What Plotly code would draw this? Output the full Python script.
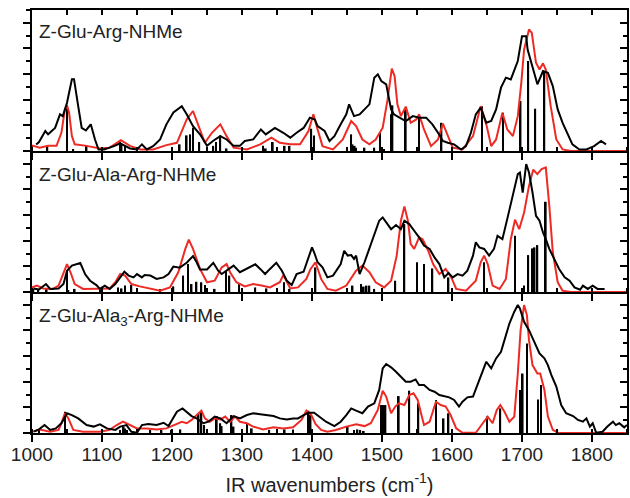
import plotly.graph_objects as go

# ---------------- data ----------------
# Panel 1: Z-Glu-Arg-NHMe
p1_exp_x = [1006,1010,1019,1023,1033,1040,1044,1050,1057,1060,1066,1071,1077,1084,1090,1095,1103,1110,1118,1126,1133,1140,1150,1157,1164,1173,1183,1192,1202,1214,1221,1230,1240,1250,1259,1269,1278,1288,1297,1304,1316,1327,1334,1347,1359,1369,1378,1388,1397,1404,1408,1418,1425,1432,1441,1449,1453,1460,1468,1475,1482,1489,1494,1499,1506,1513,1517,1525,1534,1544,1553,1563,1572,1580,1587,1594,1603,1613,1620,1627,1634,1641,1649,1656,1663,1670,1677,1684,1694,1700,1706,1708,1715,1722,1730,1737,1744,1751,1758,1765,1772,1782,1792,1803,1813,1820]
p1_exp_y = [0.25,0.35,0.78,0.65,0.9,1.43,1.36,1.88,2.8,2.8,1.75,0.9,0.8,1.04,0.45,0.06,0.06,0.12,0.2,0.3,0.2,0.1,0.06,0.26,0.06,0.19,0.45,1.04,1.5,1.75,1.43,0.97,0.65,0.2,0.4,0.58,0.45,0.2,0.2,0.39,0.45,0.84,0.65,0.9,0.71,0.52,0.71,0.9,1.3,1.23,0.97,0.78,0.39,0.58,1.04,1.43,1.82,1.36,1.43,1.62,1.82,2.86,2.99,2.73,2.6,1.62,1.43,1.30,1.17,1.36,1.30,1.30,1.04,0.71,0.39,0.32,0.26,0.06,0.19,0.71,1.43,1.69,1.10,1.17,1.62,2.47,2.86,2.79,3.51,4.48,4.48,3.96,3.31,2.60,3.12,3.05,2.53,1.62,1.10,0.71,0.26,0.06,0.06,0.19,0.39,0.26]
p1_calc_x = [1000,1011,1023,1035,1042,1047,1050,1053,1057,1061,1078,1097,1111,1127,1140,1155,1173,1192,1207,1221,1230,1238,1247,1257,1269,1278,1288,1307,1326,1342,1354,1369,1383,1395,1402,1408,1415,1430,1444,1456,1463,1472,1482,1491,1501,1508,1514,1518,1522,1527,1534,1541,1549,1553,1560,1570,1580,1587,1594,1601,1615,1630,1641,1649,1656,1663,1672,1679,1687,1694,1699,1703,1710,1714,1720,1725,1730,1734,1741,1749,1758,1770,1850]
p1_calc_y = [0.22,0.13,0.2,0.2,0.71,1.62,1.78,1.49,0.58,0.26,0.2,0.1,0.13,0.42,0.2,0.06,0.06,0.23,0.32,1.23,1.56,0.97,0.32,0.71,1.04,0.58,0.13,0.06,0.26,0.52,0.32,0.26,0.26,0.78,1.43,0.84,0.19,0.06,0.45,1.17,0.97,0.45,0.26,0.45,0.91,2.01,3.21,2.92,1.82,1.36,1.73,1.10,1.23,1.43,0.84,0.19,0.45,1.07,0.58,0.13,0.06,0.58,1.75,1.04,0.19,0.45,1.49,0.84,0.58,1.36,2.66,3.96,4.74,4.61,3.44,3.18,3.42,3.18,1.75,0.45,0.06,0.0,0.0]
p1_stick_x = [1000,1022,1050,1059,1078,1126,1128,1133,1211,1221,1226,1230,1239,1259,1263,1269,1278,1330,1334,1344,1361,1368,1399,1403,1456,1458,1461,1463,1475,1489,1497,1503,1513,1515,1534,1553,1585,1643,1673,1698,1709,1719,1732]
p1_stick_y = [0.2,0.22,1.78,0.05,0.2,0.35,0.25,0.2,0.26,0.61,0.65,0.91,0.35,0.2,0.35,0.61,0.1,0.2,0.1,0.35,0.2,0.2,0.87,0.6,0.65,0.26,0.2,0.13,0.13,0.13,0.71,0.06,1.43,1.78,1.65,1.43,1.10,1.75,1.49,1.95,3.51,1.65,3.08]

# Panel 2: Z-Glu-Ala-Arg-NHMe
p2_exp_x = [1002,1010,1020,1026,1038,1045,1050,1057,1069,1076,1083,1092,1097,1104,1111,1119,1126,1132,1138,1145,1150,1157,1161,1169,1178,1188,1195,1202,1211,1221,1230,1235,1240,1250,1259,1266,1271,1278,1288,1297,1307,1319,1326,1333,1340,1349,1357,1364,1371,1378,1388,1395,1400,1403,1408,1415,1422,1430,1437,1441,1446,1451,1456,1460,1463,1468,1475,1482,1489,1496,1501,1508,1513,1520,1527,1532,1539,1546,1553,1560,1568,1575,1582,1589,1595,1601,1608,1615,1622,1630,1634,1639,1646,1653,1660,1665,1672,1680,1687,1694,1697,1701,1706,1710,1715,1720,1725,1730,1734,1739,1746,1753,1761,1768,1775,1783,1787,1794,1801,1808,1818]
p2_exp_y = [0.14,0.1,0.31,0.12,0.14,0.31,0.83,1.03,1.13,0.69,0.44,0.27,0.12,0.25,0.12,0.31,0.57,0.79,0.64,0.57,0.70,0.57,0.66,0.64,0.51,0.57,0.70,0.99,0.95,1.14,1.40,1.17,0.88,0.88,1.14,0.83,0.70,0.83,1.03,0.77,0.90,1.08,0.90,0.70,0.90,1.14,0.83,0.44,0.27,0.70,0.79,1.34,1.74,1.55,1.16,0.96,0.57,0.64,0.96,1.09,1.61,1.42,1.44,1.29,1.42,0.70,1.16,1.68,2.26,2.78,2.91,2.65,2.45,2.61,2.45,2.78,2.65,2.39,2.13,1.81,1.68,1.35,1.09,0.57,0.74,0.57,0.70,0.64,0.83,1.42,1.94,1.74,1.68,1.42,1.68,2.19,2.06,2.97,3.75,4.60,4.66,3.88,4.99,4.66,3.88,2.97,2.78,2.32,2.06,1.68,1.29,0.90,0.57,0.44,0.18,0.09,0.25,0.12,0.25,0.12,0.12]
p2_calc_x = [1000,1007,1016,1030,1038,1045,1050,1055,1061,1073,1092,1111,1119,1126,1133,1142,1154,1169,1183,1197,1209,1219,1224,1230,1240,1250,1261,1271,1278,1283,1292,1304,1316,1328,1340,1354,1359,1369,1380,1392,1398,1405,1413,1422,1434,1449,1463,1472,1482,1491,1503,1513,1521,1527,1532,1537,1541,1546,1553,1558,1566,1573,1582,1591,1599,1606,1620,1634,1641,1646,1651,1658,1668,1677,1684,1690,1696,1703,1710,1716,1722,1728,1734,1739,1744,1751,1758,1770,1850]
p2_calc_y = [0.18,0.25,0.14,0.12,0.25,0.75,1.09,0.77,0.31,0.12,0.12,0.14,0.38,0.70,0.64,0.31,0.22,0.12,0.05,0.18,0.77,1.68,2.04,1.68,0.90,0.38,0.44,0.96,1.09,0.77,0.38,0.22,0.31,0.25,0.18,0.38,0.66,0.14,0.18,0.51,0.9,1.16,0.51,0.12,0.05,0.25,0.83,1.03,0.77,0.38,0.18,0.44,1.42,2.78,3.34,2.78,1.87,1.68,2.13,2.06,1.61,1.09,0.70,0.90,0.57,0.12,0.05,0.44,1.16,1.42,1.09,0.25,0.12,0.51,2.06,2.82,2.45,3.10,4.14,4.77,4.60,4.79,4.86,3.36,1.55,0.38,0.05,0.0,0.0]
p2_stick_x = [1002,1009,1021,1050,1052,1061,1097,1123,1128,1133,1142,1183,1202,1216,1223,1228,1235,1242,1247,1261,1277,1282,1296,1319,1335,1360,1368,1405,1458,1470,1474,1478,1482,1489,1519,1532,1550,1560,1572,1595,1646,1690,1703,1709,1715,1718,1722,1734]
p2_stick_y = [0.12,0.12,0.12,0.83,0.05,0.12,0.08,0.18,0.14,0.25,0.27,0.12,0.22,0.64,1.09,0.31,0.40,0.38,0.27,0.12,0.83,0.64,0.31,0.18,0.14,0.38,0.12,0.96,0.25,0.31,0.21,0.25,0.25,0.12,0.44,2.65,1.16,1.09,0.92,0.57,1.16,2.19,0.25,1.44,1.70,1.74,1.83,3.52]

# Panel 3: Z-Glu-Ala3-Arg-NHMe
p3_exp_x = [1003,1010,1018,1026,1034,1042,1050,1057,1066,1078,1088,1097,1107,1119,1126,1135,1142,1150,1157,1166,1178,1188,1195,1202,1207,1215,1221,1228,1235,1245,1252,1261,1269,1278,1288,1297,1307,1316,1326,1335,1345,1354,1364,1373,1380,1388,1395,1403,1410,1420,1432,1441,1449,1456,1463,1472,1480,1489,1496,1501,1506,1513,1520,1527,1534,1541,1548,1553,1560,1568,1575,1582,1589,1596,1603,1610,1615,1622,1630,1637,1644,1649,1656,1663,1670,1675,1682,1689,1694,1697,1703,1710,1718,1725,1732,1737,1742,1749,1756,1763,1773,1780,1787,1792,1797,1801,1806,1815,1822,1830,1834,1839,1846,1850]
p3_exp_y = [0.05,0.14,0.31,0.12,0.18,0.38,0.77,0.70,0.57,0.31,0.25,0.34,0.18,0.12,0.25,0.31,0.05,0.01,0.31,0.35,0.31,0.40,0.27,0.57,0.83,0.96,0.83,0.66,0.57,0.38,0.44,0.64,0.57,0.38,0.66,0.57,0.70,0.77,0.73,0.70,0.66,0.57,0.53,0.57,0.57,0.70,0.79,0.79,0.64,0.44,0.27,0.44,0.70,0.96,0.87,0.77,1.03,1.16,1.68,2.52,2.69,2.56,2.39,2.19,2.00,2.00,2.09,1.87,1.87,1.68,1.61,1.48,1.44,1.39,1.29,1.03,1.22,1.39,1.42,1.94,2.45,2.78,2.52,2.91,3.17,3.62,4.27,4.73,4.99,4.86,4.34,4.01,3.56,3.10,2.91,2.65,2.26,1.81,1.09,0.77,0.66,0.51,0.44,0.57,0.25,0.38,0.01,0.05,0.25,0.44,0.31,0.38,0.22,0.31]
p3_calc_x = [1000,1011,1026,1038,1042,1047,1052,1059,1073,1097,1111,1121,1130,1140,1150,1164,1178,1192,1202,1214,1221,1228,1238,1242,1247,1254,1261,1269,1276,1283,1290,1297,1307,1316,1330,1345,1359,1373,1385,1392,1399,1405,1413,1422,1434,1449,1463,1475,1484,1494,1501,1506,1513,1519,1524,1532,1539,1545,1551,1560,1568,1577,1584,1591,1598,1606,1615,1634,1644,1651,1658,1664,1669,1675,1682,1689,1694,1698,1703,1707,1710,1715,1722,1726,1732,1737,1744,1752,1850]
p3_calc_y = [0.05,0.14,0.05,0.12,0.38,0.77,0.57,0.12,0.05,0.05,0.12,0.31,0.44,0.31,0.18,0.18,0.14,0.18,0.31,0.44,0.38,0.51,0.77,0.87,0.57,0.44,0.57,0.53,0.64,0.44,0.64,0.44,0.38,0.25,0.14,0.22,0.18,0.22,0.51,0.87,0.70,0.35,0.12,0.05,0.12,0.25,0.34,0.27,0.38,0.90,1.65,1.42,0.77,1.03,1.16,1.09,1.48,1.55,1.29,0.31,0.44,1.22,1.09,1.03,0.70,0.18,0.01,0.01,0.38,0.64,0.38,0.90,1.09,0.83,0.44,0.64,2.32,4.01,4.99,4.60,3.62,2.65,2.32,2.32,1.68,0.64,0.12,0.0,0.0]
p3_stick_x = [1010,1047,1126,1131,1133,1136,1169,1185,1199,1212,1238,1242,1246,1250,1264,1269,1271,1285,1288,1307,1314,1339,1361,1373,1395,1398,1451,1460,1465,1469,1474,1499,1502,1505,1524,1539,1552,1577,1588,1595,1650,1669,1697,1701,1707,1723,1727]
p3_stick_y = [0.12,0.83,0.12,0.25,0.18,0.12,0.12,0.12,0.12,0.14,0.77,0.83,0.31,0.12,0.66,0.38,0.27,0.70,0.25,0.38,0.18,0.12,0.14,0.14,0.87,0.7,0.25,0.12,0.14,0.12,0.08,1.09,1.09,1.09,1.44,1.65,1.16,1.29,0.57,0.77,0.64,0.96,1.68,2.32,3.49,1.31,1.87]

panel_labels = ["Z-Glu-Arg-NHMe", "Z-Glu-Ala-Arg-NHMe", "Z-Glu-Ala<sub>3</sub>-Arg-NHMe"]
x_ticks = [1000, 1100, 1200, 1300, 1400, 1500, 1600, 1700, 1800]
x_title = "IR wavenumbers (cm<sup>-1</sup>)"

# ---------------- figure ----------------
RED = "#ee2a24"
FONT = "Liberation Sans, Arial, sans-serif"
TXT = "#222222"

panels = [
    (p1_exp_x, p1_exp_y, p1_calc_x, p1_calc_y, p1_stick_x, p1_stick_y),
    (p2_exp_x, p2_exp_y, p2_calc_x, p2_calc_y, p2_stick_x, p2_stick_y),
    (p3_exp_x, p3_exp_y, p3_calc_x, p3_calc_y, p3_stick_x, p3_stick_y),
]
# panel 1 (top) uses x3/y3, panel 2 uses x2/y2, panel 3 (bottom) uses x/y
axis_ids = ["3", "2", ""]

fig = go.Figure()
for (ex, ey, cx, cy, sx, sy), aid in zip(panels, axis_ids):
    xa = "x" + aid
    ya = "y" + aid
    fig.add_trace(go.Bar(x=sx, y=sy, width=2.4, marker=dict(color="black", line=dict(width=0)),
                         xaxis=xa, yaxis=ya, showlegend=False))
    fig.add_trace(go.Scatter(x=cx, y=cy, mode="lines", line=dict(color=RED, width=2),
                             xaxis=xa, yaxis=ya, showlegend=False))
    fig.add_trace(go.Scatter(x=ex, y=ey, mode="lines", line=dict(color="black", width=2),
                             xaxis=xa, yaxis=ya, showlegend=False))

# empty traces so the mirrored right/top axes are drawn
for ya in ["y4", "y5", "y6"]:
    base = {"y4": "", "y5": "2", "y6": "3"}[ya]
    fig.add_trace(go.Scatter(x=[], y=[], xaxis="x" + base, yaxis=ya, showlegend=False))
fig.add_trace(go.Scatter(x=[], y=[], xaxis="x4", yaxis="y3", showlegend=False))

XR = [1000, 1850]
YR = [0, 5.5]
domains = {"": [0, 1/3], "2": [1/3, 2/3], "3": [2/3, 1]}

common_x = dict(range=XR, showline=True, linecolor="black", linewidth=1.6,
                ticks="outside", ticklen=7, tickwidth=1.5, tickcolor="black",
                tickvals=x_ticks, showgrid=False, zeroline=False,
                minor=dict(ticks="inside", ticklen=4, tickwidth=1.5, tickcolor="black", dtick=50, tick0=1000, showgrid=False))
common_y = dict(range=YR, showline=True, linecolor="black", linewidth=1.6,
                ticks="outside", ticklen=7, tickwidth=1.5, tickcolor="black",
                dtick=1, tick0=0, showticklabels=False, showgrid=False, zeroline=False,
                minor=dict(ticks="outside", ticklen=4, tickwidth=1.5, tickcolor="black", dtick=0.5, tick0=0, showgrid=False))
right_y = dict(common_y)
right_y.update(ticks="inside", side="right",
               minor=dict(ticks="inside", ticklen=4, tickwidth=1.5, tickcolor="black", dtick=0.5, tick0=0, showgrid=False))

layout = dict(
    width=630, height=498,
    margin=dict(l=32, r=3, t=10, b=65),
    plot_bgcolor="white", paper_bgcolor="white",
    barmode="overlay",
    font=dict(family=FONT, color=TXT),
)
layout["xaxis"] = dict(common_x, anchor="y", showticklabels=True, ticklabelstandoff=-4,
                       tickfont=dict(size=19, family=FONT, color=TXT),
                       title=dict(text=x_title, font=dict(size=20, family=FONT, color=TXT), standoff=14))
layout["xaxis2"] = dict(common_x, anchor="y2", matches="x", showticklabels=False)
layout["xaxis3"] = dict(common_x, anchor="y3", matches="x", showticklabels=False)
layout["xaxis4"] = dict(common_x, anchor="y3", overlaying="x3", side="top", showticklabels=False,
                        ticks="inside", ticklen=5,
                        minor=dict(ticks="inside", ticklen=5, tickwidth=1.5, tickcolor="black", dtick=50, tick0=1000, showgrid=False))
layout["yaxis"] = dict(common_y, anchor="x", domain=domains[""])
layout["yaxis2"] = dict(common_y, anchor="x2", domain=domains["2"])
layout["yaxis3"] = dict(common_y, anchor="x3", domain=domains["3"])
layout["yaxis4"] = dict(right_y, anchor="x", overlaying="y")
layout["yaxis5"] = dict(right_y, anchor="x2", overlaying="y2")
layout["yaxis6"] = dict(right_y, anchor="x3", overlaying="y3")

label_y = [0.948, 0.610, 0.274]
layout["annotations"] = [
    dict(text=t, xref="paper", yref="paper", x=0.008, y=yy, xanchor="left", yanchor="middle",
         showarrow=False, font=dict(size=19, family=FONT, color=TXT))
    for t, yy in zip(panel_labels, label_y)
]

fig.update_layout(**layout)
fig.write_html("out.html")
